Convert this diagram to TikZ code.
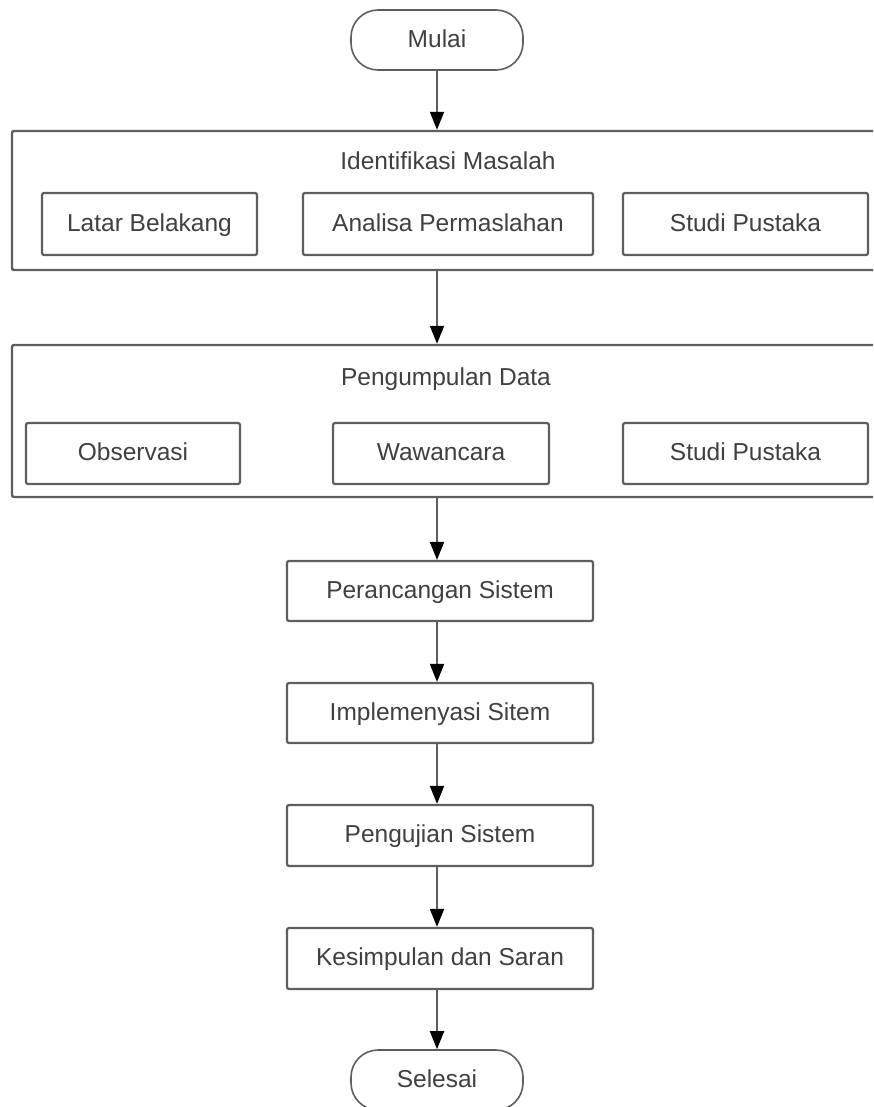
\documentclass[tikz,border=0pt]{standalone}
\usepackage{fontspec}
\setmainfont{Liberation Sans}
\usetikzlibrary{arrows.meta}
\definecolor{ln}{HTML}{5E5E5E}
\definecolor{tx}{HTML}{404040}
\begin{document}
\begin{tikzpicture}[x=1pt,y=-1pt,
  txt/.style={text=tx,font=\fontsize{24.5}{28}\selectfont,text height=17.5pt,text depth=3pt},
  box/.style={txt,draw=ln,line width=2.2pt,rounded corners=2pt,inner sep=0pt,fill=white},
  term/.style={box,rounded corners=27pt,line width=1.6pt},
  group/.style={draw=ln,line width=2.4pt,rounded corners=2pt,inner sep=0pt},
  flow/.style={draw=ln,line width=2pt,-{Triangle[width=14pt,length=18pt,black,fill=black]}}]
\useasboundingbox (0,0) rectangle (873,1107);
\clip (0,0) rectangle (873,1107);
% start
\node[term,minimum width=172pt,minimum height=60pt] (mulai) at (437,40) {Mulai};
% group 1
\node[group,minimum width=868pt,minimum height=139pt] (g1) at (446,200.5) {};
\node[txt] (t1) at (448,162) {Identifikasi Masalah};
\node[box,minimum width=215pt,minimum height=62pt] (latar) at (149.5,224) {Latar Belakang};
\node[box,minimum width=290pt,minimum height=62pt] (analisa) at (448,224) {Analisa Permaslahan};
\node[box,minimum width=245pt,minimum height=62pt] (studi1) at (745.5,224) {Studi Pustaka};
% group 2
\node[group,minimum width=868pt,minimum height=152pt] (g2) at (446,421) {};
\node[txt] (t2) at (446,378) {Pengumpulan Data};
\node[box,minimum width=214pt,minimum height=61pt] (obs) at (133,453.5) {Observasi};
\node[box,minimum width=216pt,minimum height=61pt] (waw) at (441,453.5) {Wawancara};
\node[box,minimum width=245pt,minimum height=61pt] (studi2) at (745.5,453.5) {Studi Pustaka};
% process chain
\node[box,minimum width=306pt,minimum height=60pt] (per) at (440,591) {Perancangan Sistem};
\node[box,minimum width=306pt,minimum height=60pt] (imp) at (440,713) {Implemenyasi Sitem};
\node[box,minimum width=306pt,minimum height=61pt] (uji) at (440,835.5) {Pengujian Sistem};
\node[box,minimum width=306pt,minimum height=61pt] (kes) at (440,958.5) {Kesimpulan dan Saran};
\node[term,minimum width=172pt,minimum height=60pt] (selesai) at (437,1080) {Selesai};
% connectors
\coordinate (c1) at (437,0);
\draw[flow] (mulai.south) -- (mulai.south |- g1.north);
\draw[flow] (c1 |- g1.south) -- (c1 |- g2.north);
\draw[flow] (c1 |- g2.south) -- (c1 |- per.north);
\draw[flow] (c1 |- per.south) -- (c1 |- imp.north);
\draw[flow] (c1 |- imp.south) -- (c1 |- uji.north);
\draw[flow] (c1 |- uji.south) -- (c1 |- kes.north);
\draw[flow] (c1 |- kes.south) -- (selesai.north);
\end{tikzpicture}
\end{document}
